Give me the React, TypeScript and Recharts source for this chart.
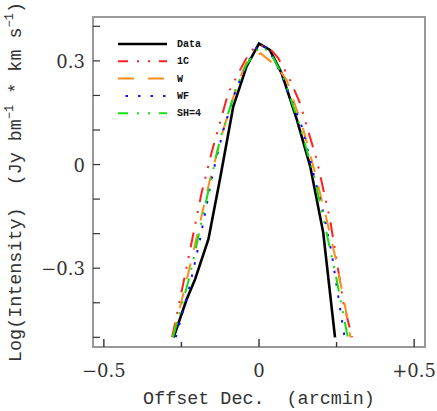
import { LineChart, Line, XAxis, YAxis, ReferenceArea } from "recharts";

// offsets (arcmin) and log intensities
const dataX = [-0.275, -0.258, -0.233, -0.206, -0.163, -0.126, -0.083, -0.04, 0, 0.035, 0.073, 0.122, 0.165, 0.207, 0.245];
const dataY = [-0.5, -0.455, -0.39, -0.332, -0.216, -0.043, 0.168, 0.284, 0.35, 0.332, 0.264, 0.13, -0.005, -0.197, -0.5];

const oneCX = [-0.28, -0.239, -0.185, -0.153, -0.099, -0.061, -0.029, 0, 0.035, 0.062, 0.1, 0.132, 0.186, 0.229, 0.272, 0.3];
const oneCY = [-0.5, -0.322, -0.082, 0.034, 0.207, 0.274, 0.327, 0.346, 0.336, 0.308, 0.245, 0.178, 0.014, -0.159, -0.399, -0.5];

const wX = [-0.278, -0.217, -0.158, -0.115, -0.072, -0.04, 0.005, 0.057, 0.089, 0.143, 0.175, 0.218, 0.25, 0.283, 0.295];
const wY = [-0.5, -0.274, -0.043, 0.101, 0.226, 0.298, 0.322, 0.284, 0.245, 0.101, -0.005, -0.159, -0.284, -0.437, -0.5];

const wfX = [-0.268, -0.223, -0.19, -0.15, -0.115, -0.075, -0.04, 0, 0.03, 0.07, 0.138, 0.175, 0.207, 0.234, 0.262, 0.276];
const wfY = [-0.5, -0.351, -0.216, -0.03, 0.1, 0.215, 0.29, 0.35, 0.335, 0.265, 0.11, -0.024, -0.139, -0.255, -0.42, -0.5];

const shX = [-0.277, -0.223, -0.174, -0.126, -0.072, -0.04, 0.003, 0.035, 0.078, 0.132, 0.175, 0.213, 0.25, 0.283, 0.287];
const shY = [-0.5, -0.322, -0.12, 0.072, 0.226, 0.29, 0.341, 0.327, 0.255, 0.11, -0.024, -0.178, -0.332, -0.486, -0.5];

const xTicks = [-0.5, -0.25, 0, 0.25, 0.5];
const xTickLabels = ["\u22120.5", "", "0", "", "+0.5"];
const yTicks = [-0.5, -0.4, -0.3, -0.2, -0.1, 0, 0.1, 0.2, 0.3, 0.4];
const yTickLabels = ["", "", "\u22120.3", "", "", "0", "", "", "0.3", ""];

const X_DOMAIN: [number, number] = [-0.535, 0.535];
const Y_DOMAIN: [number, number] = [-0.528, 0.427];

const pts = (xs: number[], ys: number[]) => xs.map((x, i) => ({ x, y: ys[i] }));

const series = [
  { name: "Data", data: pts(dataX, dataY), color: "#000000", dash: undefined, width: 2.6 },
  { name: "1C", data: pts(oneCX, oneCY), color: "#ff2020", dash: "15 9 2 9 2 9", width: 2 },
  { name: "W", data: pts(wX, wY), color: "#ff8c1a", dash: "16 14", width: 2 },
  { name: "WF", data: pts(wfX, wfY), color: "#1010ff", dash: "2.5 10", width: 2 },
  { name: "SH=4", data: pts(shX, shY), color: "#10e010", dash: "15 9 2 9 2 9", width: 2 },
];

const tickFont = "'DejaVu Serif', serif";
const labelFont = "'Liberation Mono', monospace";

function XTick({ x, y, payload }: any) {
  const i = xTicks.findIndex((t) => Math.abs(t - payload.value) < 1e-6);
  const label = xTickLabels[i] ?? "";
  return (
    <g>
      <line x1={x} x2={x} y1={y} y2={y - (label ? 8 : 5)} stroke="#333" strokeWidth={1.4} />
      {label && (
        <text x={x} y={y + 30} textAnchor="middle" fontFamily={tickFont} fontSize={18} fill="#333">
          {label}
        </text>
      )}
    </g>
  );
}

function YTick({ x, y, payload }: any) {
  const i = yTicks.findIndex((t) => Math.abs(t - payload.value) < 1e-6);
  const label = yTickLabels[i] ?? "";
  return (
    <g>
      <line x1={x} x2={x + 7} y1={y} y2={y} stroke="#333" strokeWidth={1.2} />
      {label && (
        <text x={x - 8} y={y + 7} textAnchor="end" fontFamily={tickFont} fontSize={18} fill="#333">
          {label}
        </text>
      )}
    </g>
  );
}

function YLabel() {
  return (
    <text
      x={21}
      y={182}
      transform="rotate(-90, 21, 182)"
      textAnchor="middle"
      fontFamily={labelFont}
      fontSize={18.4}
      fill="#333"
      style={{ whiteSpace: "pre" }}
    >
      {"Log(Intensity)  (Jy bm"}
      <tspan dy={-8} fontSize={12}>{"\u22121"}</tspan>
      <tspan dy={8}>{" * km s"}</tspan>
      <tspan dy={-8} fontSize={12}>{"\u22121"}</tspan>
      <tspan dy={8}>)</tspan>
    </text>
  );
}

function XLabel() {
  return (
    <text
      x={259}
      y={404}
      textAnchor="middle"
      fontFamily={labelFont}
      fontSize={18.4}
      fill="#333"
      style={{ whiteSpace: "pre" }}
    >
      {"Offset Dec.  (arcmin)"}
    </text>
  );
}

function LegendBox() {
  return (
    <svg width={437} height={411} style={{ position: "absolute", left: 0, top: 0, pointerEvents: "none" }}>
      {series.map((s, i) => {
        const y = 44 + i * 17.3;
        return (
          <g key={s.name}>
            <line
              x1={118}
              x2={167}
              y1={y}
              y2={y}
              stroke={s.color}
              strokeWidth={s.width}
              strokeDasharray={s.dash}
              strokeDashoffset={s.dash ? (s.name === "W" ? 0 : 5) : 0}
            />
            <text x={177} y={y + 3} fontFamily={labelFont} fontWeight="bold" fontSize={10} fill="#111">
              {s.name}
            </text>
          </g>
        );
      })}
    </svg>
  );
}

export default function App() {
  return (
    <div style={{ position: "absolute", left: 0, top: 0, width: 437, height: 411, background: "#fff" }}>
      <LineChart width={437} height={411} margin={{ top: 17, right: 12, bottom: 0, left: 0 }}>
        <XAxis
          type="number"
          dataKey="x"
          domain={X_DOMAIN}
          allowDataOverflow
          ticks={xTicks}
          tick={<XTick />}
          tickSize={0}
          tickMargin={0}
          tickLine={false}
          axisLine={false}
          interval={0}
          height={64}
          label={<XLabel />}
        />
        <YAxis
          type="number"
          dataKey="y"
          domain={Y_DOMAIN}
          allowDataOverflow
          ticks={yTicks}
          tick={<YTick />}
          tickSize={0}
          tickMargin={0}
          tickLine={false}
          axisLine={false}
          interval={0}
          width={93}
          label={<YLabel />}
        />
        <ReferenceArea
          x1={X_DOMAIN[0]}
          x2={X_DOMAIN[1]}
          y1={Y_DOMAIN[0]}
          y2={Y_DOMAIN[1]}
          fill="none"
          stroke="#999"
          strokeWidth={2}
          ifOverflow="visible"
        />
        {series.map((s) => (
          <Line
            key={s.name}
            data={s.data}
            dataKey="y"
            name={s.name}
            type="linear"
            stroke={s.color}
            strokeWidth={s.width}
            strokeDasharray={s.dash}
            dot={false}
            activeDot={false}
            isAnimationActive={false}
          />
        ))}
      </LineChart>
      <LegendBox />
    </div>
  );
}
